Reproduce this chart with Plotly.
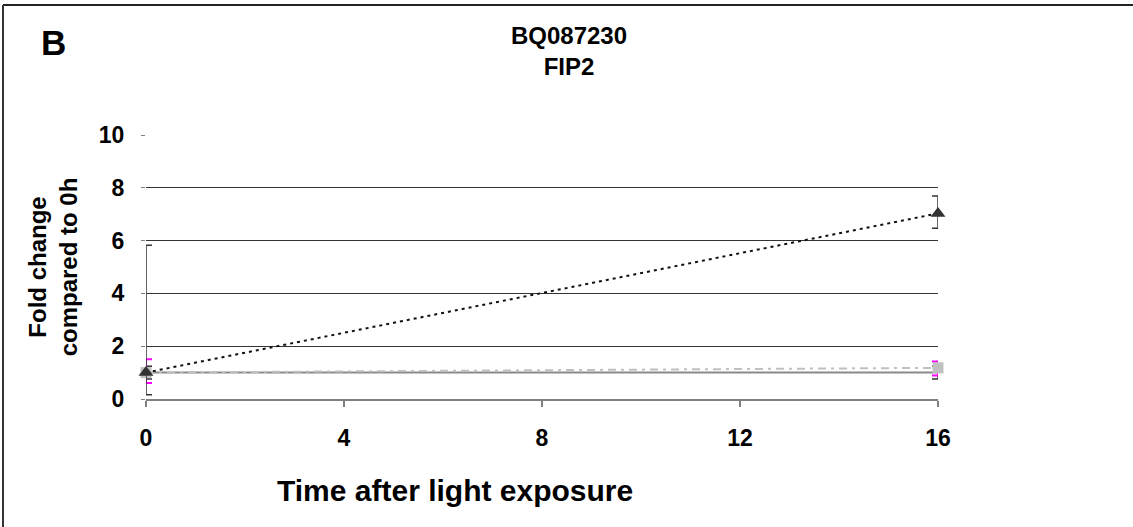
import plotly.graph_objects as go

hours = [0, 16]
x_ticks = [0, 4, 8, 12, 16]
y_ticks = [0, 2, 4, 6, 8, 10]

# series values (fold change)
tri_vals = [1.0, 7.03]
tri_err_plus = [4.82, 0.66]
tri_err_minus = [0.84, 0.56]

sq_vals = [1.0, 1.18]
sq_err_plus = [0.51, 0.24]
sq_err_minus = [0.39, 0.29]

flat_vals = [1.0, 1.0]
flat_err_plus = [0.24, 0.24]
flat_err_minus = [0.24, 0.24]

FONT = "Liberation Sans, Arial, sans-serif"

fig = go.Figure()

fig.add_trace(go.Scatter(
    x=hours, y=flat_vals, mode="lines",
    line=dict(color="#8a8a8a", width=2),
    error_y=dict(type="data", symmetric=False, array=flat_err_plus, arrayminus=flat_err_minus,
                 color="#333333", thickness=1.5, width=6),
    cliponaxis=False, showlegend=False))

fig.add_trace(go.Scatter(
    x=hours, y=sq_vals, mode="lines+markers",
    line=dict(color="#c0c0c0", width=2, dash="8px,5px,3px,5px"),
    marker=dict(symbol="square", size=11, color="#c0c0c0"),
    error_y=dict(type="data", symmetric=False, array=sq_err_plus, arrayminus=sq_err_minus,
                 color="#ff00ff", thickness=2, width=6),
    cliponaxis=False, showlegend=False))

fig.add_trace(go.Scatter(
    x=hours, y=tri_vals, mode="lines+markers",
    line=dict(color="#111111", width=2, dash="3px,4px"),
    marker=dict(symbol="triangle-up", size=13, color="#333333"),
    error_y=dict(type="data", symmetric=False, array=tri_err_plus, arrayminus=tri_err_minus,
                 color="#333333", thickness=1.5, width=6),
    cliponaxis=False, showlegend=False))

fig.update_layout(
    width=1133, height=527,
    margin=dict(l=146, r=195, t=135, b=128),
    paper_bgcolor="white", plot_bgcolor="white",
    font=dict(family=FONT, color="black"),
    title=dict(text="BQ087230<br>FIP2", x=569 / 1133, xanchor="center",
               y=1 - 44 / 527, yanchor="middle",
               font=dict(family=FONT, size=24, weight="bold", color="black")),
    xaxis=dict(range=[0, 16], tickvals=x_ticks, ticktext=[str(v) for v in x_ticks],
               showgrid=False, zeroline=False,
               showline=True, linecolor="#808080", linewidth=2,
               ticks="outside", ticklen=6, tickcolor="#808080", tickwidth=1.5,
               ticklabelstandoff=11,
               tickfont=dict(family=FONT, size=23, weight="bold", color="black")),
    yaxis=dict(range=[0, 10], tickvals=y_ticks, ticktext=[str(v) for v in y_ticks],
               showgrid=True, gridcolor="#333333", gridwidth=1.2,
               zeroline=False, showline=False,
               ticks="outside", ticklen=4, tickcolor="#808080", tickwidth=1,
               ticklabelstandoff=12,
               tickfont=dict(family=FONT, size=23, weight="bold", color="black"),
               title=dict(text="Fold change<br>compared to 0h", standoff=14,
                          font=dict(family=FONT, size=24, weight="bold", color="black"))),
    annotations=[
        dict(text="B", xref="paper", yref="paper",
             x=(53 - 146) / 792, y=1 + (135 - 43) / 264,
             xanchor="center", yanchor="middle", showarrow=False,
             font=dict(family=FONT, size=35, weight="bold", color="black")),
        dict(text="Time after light exposure", xref="paper", yref="paper",
             x=(455 - 146) / 792, y=-(490 - 399) / 264,
             xanchor="center", yanchor="middle", showarrow=False,
             font=dict(family=FONT, size=30, weight="bold", color="black")),
    ],
    shapes=[
        dict(type="line", xref="paper", yref="paper",
             x0=(3 - 146) / 792, x1=1.5, y0=1 + (135 - 5) / 264, y1=1 + (135 - 5) / 264,
             line=dict(color="#222222", width=2)),
        dict(type="line", xref="paper", yref="paper",
             x0=(3 - 146) / 792, x1=(3 - 146) / 792, y0=-0.6, y1=1 + (135 - 5) / 264,
             line=dict(color="#333333", width=2)),
    ],
)

fig.write_html("out.html", config={"displayModeBar": False},
               post_script="document.body.style.margin='0';")
